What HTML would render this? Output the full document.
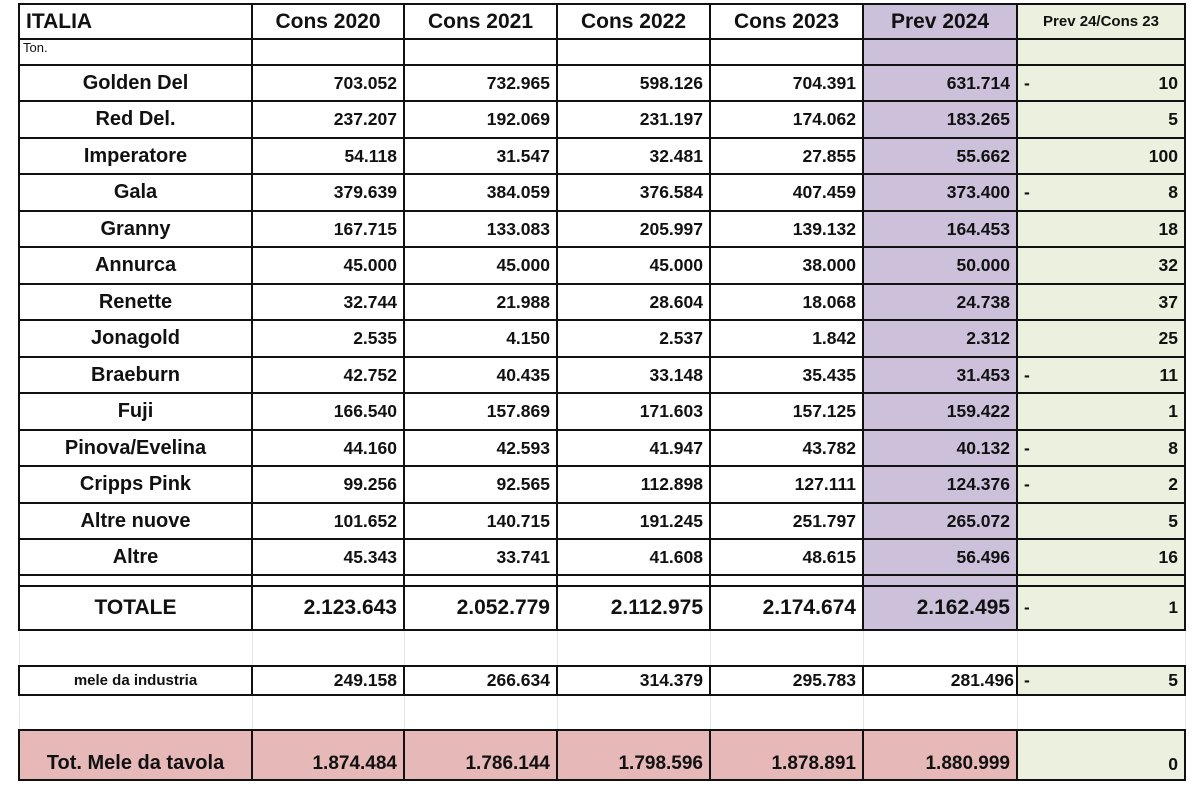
<!DOCTYPE html>
<html><head><meta charset="utf-8"><style>
body{margin:0;background:#fff;width:1200px;height:787px;overflow:hidden;font-family:"Liberation Sans",sans-serif;}
table{position:absolute;left:18px;top:3px;border-collapse:collapse;table-layout:fixed;width:1166px;}
td{border:2px solid #111;padding:0 6px;font-weight:bold;font-size:17.5px;text-align:right;color:#111;white-space:nowrap;overflow:hidden;}
td.n{text-align:center;font-size:20px;}
td.h{text-align:center;font-size:21px;}
.p{background:#ccc0da;}
.g{background:#ebf1de;}
.r{background:#e6b8b7;}
.dd{display:flex;justify-content:space-between;}
tr.b td{border-top:none;border-bottom:none;border-left:1px solid #e4e4e4;border-right:1px solid #e4e4e4;background:#fff;}
tr.big td{font-size:21px;}
</style></head><body>
<table>
<colgroup><col style="width:233px"><col style="width:152px"><col style="width:153px"><col style="width:153px"><col style="width:153px"><col style="width:154px"><col style="width:168px"></colgroup>
<tr style="height:35px"><td style="text-align:left;font-size:21px">ITALIA</td><td class="h">Cons 2020</td><td class="h">Cons 2021</td><td class="h">Cons 2022</td><td class="h">Cons 2023</td><td class="h p">Prev 2024</td><td class="g" style="font-size:15px;padding:0 2px;text-align:center">Prev 24/Cons 23</td></tr>
<tr style="height:26px"><td style="text-align:left;font-weight:normal;font-size:13px;vertical-align:top;padding-left:3px">Ton.</td><td></td><td></td><td></td><td></td><td class="p"></td><td class="g"></td></tr>
<tr style="height:36px"><td class="n">Golden Del</td><td>703.052</td><td>732.965</td><td>598.126</td><td>704.391</td><td class="p">631.714</td><td class="g"><div class="dd"><span>-</span><span>10</span></div></td></tr>
<tr style="height:37px"><td class="n">Red Del.</td><td>237.207</td><td>192.069</td><td>231.197</td><td>174.062</td><td class="p">183.265</td><td class="g">5</td></tr>
<tr style="height:36px"><td class="n">Imperatore</td><td>54.118</td><td>31.547</td><td>32.481</td><td>27.855</td><td class="p">55.662</td><td class="g">100</td></tr>
<tr style="height:37px"><td class="n">Gala</td><td>379.639</td><td>384.059</td><td>376.584</td><td>407.459</td><td class="p">373.400</td><td class="g"><div class="dd"><span>-</span><span>8</span></div></td></tr>
<tr style="height:36px"><td class="n">Granny</td><td>167.715</td><td>133.083</td><td>205.997</td><td>139.132</td><td class="p">164.453</td><td class="g">18</td></tr>
<tr style="height:37px"><td class="n">Annurca</td><td>45.000</td><td>45.000</td><td>45.000</td><td>38.000</td><td class="p">50.000</td><td class="g">32</td></tr>
<tr style="height:36px"><td class="n">Renette</td><td>32.744</td><td>21.988</td><td>28.604</td><td>18.068</td><td class="p">24.738</td><td class="g">37</td></tr>
<tr style="height:37px"><td class="n">Jonagold</td><td>2.535</td><td>4.150</td><td>2.537</td><td>1.842</td><td class="p">2.312</td><td class="g">25</td></tr>
<tr style="height:36px"><td class="n">Braeburn</td><td>42.752</td><td>40.435</td><td>33.148</td><td>35.435</td><td class="p">31.453</td><td class="g"><div class="dd"><span>-</span><span>11</span></div></td></tr>
<tr style="height:37px"><td class="n">Fuji</td><td>166.540</td><td>157.869</td><td>171.603</td><td>157.125</td><td class="p">159.422</td><td class="g">1</td></tr>
<tr style="height:36px"><td class="n">Pinova/Evelina</td><td>44.160</td><td>42.593</td><td>41.947</td><td>43.782</td><td class="p">40.132</td><td class="g"><div class="dd"><span>-</span><span>8</span></div></td></tr>
<tr style="height:37px"><td class="n">Cripps Pink</td><td>99.256</td><td>92.565</td><td>112.898</td><td>127.111</td><td class="p">124.376</td><td class="g"><div class="dd"><span>-</span><span>2</span></div></td></tr>
<tr style="height:36px"><td class="n">Altre nuove</td><td>101.652</td><td>140.715</td><td>191.245</td><td>251.797</td><td class="p">265.072</td><td class="g">5</td></tr>
<tr style="height:36px"><td class="n">Altre</td><td>45.343</td><td>33.741</td><td>41.608</td><td>48.615</td><td class="p">56.496</td><td class="g">16</td></tr>
<tr style="height:11px"><td></td><td></td><td></td><td></td><td></td><td class="p"></td><td class="g"></td></tr>
<tr class="big" style="height:44px"><td class="n">TOTALE</td><td>2.123.643</td><td>2.052.779</td><td>2.112.975</td><td>2.174.674</td><td class="p">2.162.495</td><td class="g" style="font-size:17px"><div class="dd"><span>-</span><span>1</span></div></td></tr>
<tr class="b" style="height:36px"><td></td><td></td><td></td><td></td><td></td><td></td><td></td></tr>
<tr style="height:29px"><td class="n" style="font-size:15px">mele da industria</td><td>249.158</td><td>266.634</td><td>314.379</td><td>295.783</td><td style="padding-right:2px">281.496</td><td class="g"><div class="dd"><span>-</span><span>5</span></div></td></tr>
<tr class="b" style="height:35px"><td></td><td></td><td></td><td></td><td></td><td></td><td></td></tr>
<tr style="height:50px"><td class="n r" style="vertical-align:bottom;padding-bottom:4px;font-size:20px">Tot. Mele da tavola</td><td class="r" style="vertical-align:bottom;padding-bottom:4px;font-size:19px">1.874.484</td><td class="r" style="vertical-align:bottom;padding-bottom:4px;font-size:19px">1.786.144</td><td class="r" style="vertical-align:bottom;padding-bottom:4px;font-size:19px">1.798.596</td><td class="r" style="vertical-align:bottom;padding-bottom:4px;font-size:19px">1.878.891</td><td class="r" style="vertical-align:bottom;padding-bottom:4px;font-size:19px">1.880.999</td><td class="g" style="vertical-align:bottom;padding-bottom:4px">0</td></tr>
</table>
</body></html>
